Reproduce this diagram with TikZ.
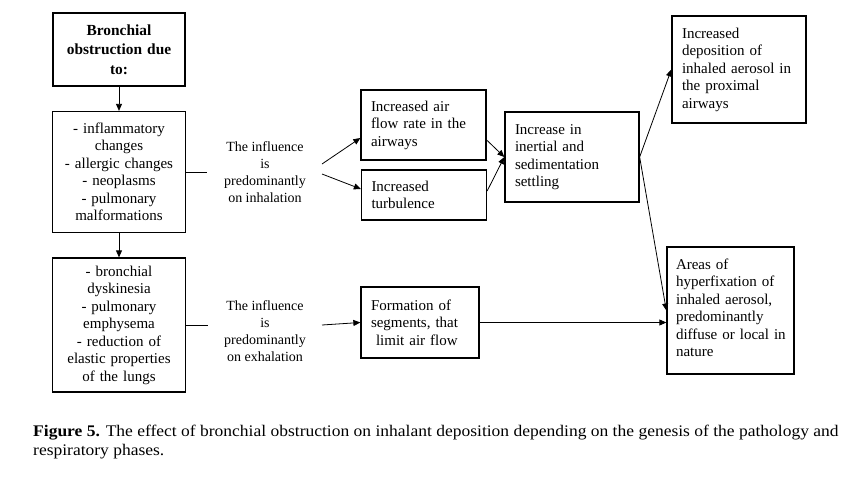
\documentclass[tikz,border=0pt]{standalone}
\usepackage{fontspec}
\setmainfont{Liberation Serif}
\newfontfamily\capfont[FakeStretch=1.08]{Liberation Serif}
\usetikzlibrary{arrows.meta,calc}
\begin{document}
\begin{tikzpicture}[x=1pt,y=-1pt,
  box/.style={draw, line width=1.3pt, inner sep=0pt, font=\fontsize{15}{17.5}\selectfont},
  lbox/.style={box, align=left, inner xsep=10pt},
  cbox/.style={box, align=center},
  infl/.style={font=\fontsize{14}{17}\selectfont, align=center, inner sep=0pt},
  conn/.style={line width=0.8pt},
  arr/.style={conn, -{Triangle[length=7pt,width=6pt]}},
  capt/.style={anchor=base west, inner sep=0pt, font=\capfont\fontsize{16.2}{19}\selectfont},
]
\useasboundingbox (0,0) rectangle (863,480);

% left column
\node[cbox, minimum width=132pt, minimum height=73pt, text width=122pt,
      font=\fontsize{15.4}{19.5}\selectfont\bfseries] (b1) at (119,49.5)
      {Bronchial\\obstruction due\\to:};
\node[cbox, minimum width=133pt, minimum height=121pt, text width=123pt] (b2) at (119,172)
      {- inflammatory\\changes\\- allergic changes\\- neoplasms\\- pulmonary\\malformations};
\node[cbox, minimum width=133pt, minimum height=134pt, text width=123pt] (b3) at (119,325)
      {- bronchial\\dyskinesia\\- pulmonary\\emphysema\\- reduction of\\elastic properties\\of the lungs};

% influence texts
\node[infl] (inh) at (265,172) {The influence\\is\\predominantly\\on inhalation};
\node[infl] (exh) at (265,331) {The influence\\is\\predominantly\\on exhalation};

% middle boxes
\node[lbox, text width=105pt, minimum height=70pt] (air) at (423.5,125)
      {Increased air\\flow rate in the\\airways};
\node[lbox, text width=105pt, minimum height=50pt] (turb) at (424,195)
      {Increased\\turbulence};
\node[lbox, text width=98pt, minimum height=71pt] (form) at (420,322.5)
      {Formation of\\segments, that\\\ limit air flow};
\node[lbox, text width=114pt, minimum height=90pt] (inert) at (572,157)
      {Increase in\\inertial and\\sedimentation\\settling};

% right boxes
\node[lbox, text width=114pt, minimum height=107pt] (dep) at (739,69.5)
      {Increased\\deposition of\\\mbox{inhaled aerosol in}\\the proximal\\airways};
\node[lbox, inner xsep=9pt, text width=109pt, minimum height=127pt] (areas) at (730.5,310.5)
      {Areas of\\hyperfixation of\\\mbox{inhaled aerosol,}\\predominantly\\\mbox{diffuse or local in}\\nature\vspace{5pt}};

% free ends
\coordinate (inhL) at (207,172);
\coordinate (exhL) at ($(b3.east)+(22,0)$);
\coordinate (inhA) at (322,164);
\coordinate (inhB) at (322,174);
\coordinate (exhA) at (322,325);

% connectors
\draw[arr] (b1.south) -- (b2.north);
\draw[arr] (b2.south) -- (b3.north);
\draw[conn] (b2.east) -- (inhL);
\draw[conn] (b3.east) -- (exhL);
\draw[arr] (inhA) -- ([yshift=-13pt]air.west);
\draw[arr] (inhB) -- ([yshift=6pt]turb.west);
\draw[arr] ([yshift=-15pt]air.east) -- (inert.west);
\draw[arr] ([yshift=4pt]turb.east) -- (inert.west);
\draw[arr] (inert.east) -- (dep.west);
\draw[arr] (inert.east) -- (areas.west);
\draw[arr] (exhA) -- (form.west);
\draw[arr] (form.east) -- (form.east -| areas.west);

% caption
\node[capt] (cap1) at (33,436) {\textbf{Figure 5.} The effect of bronchial obstruction on inhalant deposition depending on the genesis of the pathology and};
\node[capt] (cap2) at (33,455) {respiratory phases.};
\end{tikzpicture}
\end{document}
